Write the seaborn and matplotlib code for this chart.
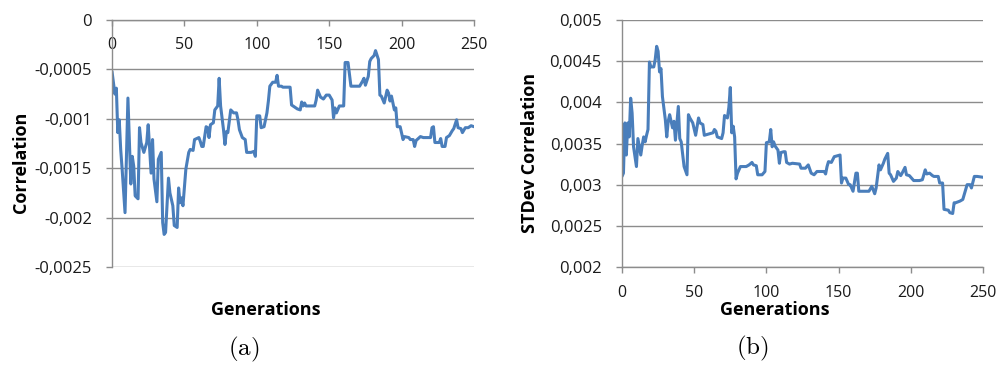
import numpy as np
import pandas as pd
import matplotlib
matplotlib.use("Agg")
import matplotlib.pyplot as plt
import seaborn as sns

# ---- data -------------------------------------------------------------
corr_gen = [0, 2, 3, 4, 5, 6, 7, 9, 10, 11, 13, 14, 15, 16, 18, 19, 20, 22, 24, 25,
            27, 28, 29, 31, 32, 34, 35, 36, 37, 39, 40, 42, 43, 45, 46, 47, 48, 49, 51, 53,
            54, 56, 57, 60, 61, 62, 63, 65, 66, 67, 68, 70, 71, 73, 74, 75, 77, 78, 79, 80,
            82, 84, 86, 87, 88, 90, 92, 93, 96, 98, 99, 100, 102, 103, 105, 107, 108, 109, 111, 113,
            114, 115, 117, 118, 123, 124, 125, 128, 130, 131, 132, 133, 134, 140, 141, 142, 144, 146, 148, 150,
            152, 153, 154, 155, 157, 160, 161, 163, 165, 171, 173, 174, 175, 177, 178, 179, 181, 182, 184, 185,
            186, 188, 190, 191, 192, 193, 195, 196, 197, 199, 201, 202, 205, 206, 208, 209, 210, 213, 215, 220,
            221, 222, 223, 226, 227, 228, 230, 231, 233, 235, 236, 238, 239, 241, 242, 244, 246, 248, 250]
corr_val = [-0.00052, -0.00075, -0.00069, -0.00114, -0.00101, -0.00131, -0.00151, -0.00195, -0.00138, -0.00079,
            -0.00166, -0.00138, -0.00148, -0.00178, -0.00181, -0.00109, -0.00124, -0.00134, -0.00124, -0.00106,
            -0.00155, -0.00121, -0.00161, -0.00184, -0.00141, -0.00134, -0.00205, -0.00217, -0.00215, -0.00160,
            -0.00175, -0.00188, -0.00208, -0.00210, -0.00170, -0.00185, -0.00180, -0.00188, -0.00151, -0.00134,
            -0.00131, -0.00132, -0.00121, -0.00119, -0.00123, -0.00128, -0.00128, -0.00108, -0.00109, -0.00119,
            -0.00106, -0.00104, -0.00091, -0.00087, -0.00059, -0.00087, -0.00111, -0.00126, -0.00113, -0.00114,
            -0.00091, -0.00094, -0.00094, -0.00101, -0.00111, -0.00119, -0.00121, -0.00134, -0.00134, -0.00133,
            -0.00138, -0.00097, -0.00097, -0.00109, -0.00108, -0.00094, -0.00082, -0.00067, -0.00063, -0.00063,
            -0.00056, -0.00067, -0.00067, -0.00068, -0.00068, -0.00086, -0.00087, -0.00090, -0.00091, -0.00083,
            -0.00087, -0.00084, -0.00087, -0.00087, -0.00081, -0.00071, -0.00078, -0.00080, -0.00076, -0.00076,
            -0.00081, -0.00099, -0.00089, -0.00094, -0.00087, -0.00087, -0.00043, -0.00043, -0.00067, -0.00067,
            -0.00062, -0.00059, -0.00066, -0.00057, -0.00042, -0.00039, -0.00036, -0.00031, -0.00040, -0.00076,
            -0.00077, -0.00084, -0.00071, -0.00074, -0.00082, -0.00077, -0.00091, -0.00089, -0.00108, -0.00108,
            -0.00121, -0.00118, -0.00119, -0.00121, -0.00121, -0.00128, -0.00122, -0.00118, -0.00119, -0.00119,
            -0.00109, -0.00108, -0.00124, -0.00124, -0.00120, -0.00128, -0.00128, -0.00119, -0.00117, -0.00112,
            -0.00110, -0.00101, -0.00109, -0.00110, -0.00114, -0.00109, -0.00109, -0.00107, -0.00108]

std_gen = [0, 1, 2, 3, 4, 5, 6, 7, 8, 10, 11, 13, 14, 15, 16, 17, 18, 19, 20, 22,
           23, 24, 25, 26, 27, 28, 30, 31, 32, 33, 35, 36, 37, 39, 40, 41, 43, 45, 46, 47,
           49, 51, 53, 54, 56, 57, 61, 63, 64, 65, 66, 69, 70, 71, 73, 74, 75, 76, 77, 78,
           79, 80, 82, 86, 88, 90, 91, 93, 94, 97, 99, 100, 102, 103, 104, 105, 106, 108, 109, 110,
           112, 113, 114, 116, 118, 123, 124, 127, 129, 131, 133, 135, 140, 141, 142, 143, 145, 147, 149, 151,
           152, 153, 155, 157, 158, 160, 162, 163, 164, 171, 173, 175, 176, 178, 179, 181, 182, 184, 185, 186,
           188, 190, 191, 193, 194, 196, 197, 199, 202, 206, 208, 210, 211, 213, 215, 216, 219, 220, 222, 223,
           226, 227, 229, 230, 231, 234, 236, 237, 239, 241, 242, 244, 246, 250]
std_val = [0.00310, 0.00314, 0.00375, 0.00336, 0.00375, 0.00358, 0.00405, 0.00387, 0.00346, 0.00322,
           0.00356, 0.00336, 0.00348, 0.00358, 0.00352, 0.00360, 0.00367, 0.00449, 0.00443, 0.00443,
           0.00452, 0.00468, 0.00462, 0.00437, 0.00441, 0.00407, 0.00379, 0.00358, 0.00377, 0.00385,
           0.00369, 0.00377, 0.00354, 0.00395, 0.00356, 0.00352, 0.00322, 0.00312, 0.00385, 0.00381,
           0.00375, 0.00360, 0.00381, 0.00375, 0.00373, 0.00360, 0.00362, 0.00363, 0.00367, 0.00365,
           0.00358, 0.00356, 0.00363, 0.00384, 0.00381, 0.00394, 0.00418, 0.00363, 0.00371, 0.00358,
           0.00307, 0.00314, 0.00322, 0.00322, 0.00324, 0.00327, 0.00324, 0.00323, 0.00312, 0.00312,
           0.00316, 0.00351, 0.00352, 0.00367, 0.00346, 0.00352, 0.00347, 0.00342, 0.00326, 0.00339,
           0.00340, 0.00340, 0.00327, 0.00325, 0.00326, 0.00325, 0.00320, 0.00320, 0.00324, 0.00314,
           0.00312, 0.00316, 0.00316, 0.00313, 0.00322, 0.00328, 0.00327, 0.00334, 0.00335, 0.00336,
           0.00302, 0.00308, 0.00308, 0.00300, 0.00300, 0.00292, 0.00314, 0.00314, 0.00292, 0.00292,
           0.00298, 0.00289, 0.00296, 0.00324, 0.00318, 0.00326, 0.00331, 0.00338, 0.00314, 0.00312,
           0.00304, 0.00308, 0.00316, 0.00311, 0.00314, 0.00321, 0.00312, 0.00311, 0.00305, 0.00305,
           0.00306, 0.00318, 0.00313, 0.00314, 0.00311, 0.00310, 0.00310, 0.00302, 0.00302, 0.00270,
           0.00269, 0.00266, 0.00265, 0.00278, 0.00278, 0.00280, 0.00282, 0.00288, 0.00300, 0.00300,
           0.00296, 0.00310, 0.00310, 0.00309]

gen_ticks = [0, 50, 100, 150, 200, 250]
gen_tick_labels = ["0", "50", "100", "150", "200", "250"]
corr_ticks = [0, -0.0005, -0.001, -0.0015, -0.002, -0.0025]
corr_tick_labels = ["0", "-0,0005", "-0,001", "-0,0015", "-0,002", "-0,0025"]
std_ticks = [0.005, 0.0045, 0.004, 0.0035, 0.003, 0.0025, 0.002]
std_tick_labels = ["0,005", "0,0045", "0,004", "0,0035", "0,003", "0,0025", "0,002"]

df_corr = pd.DataFrame({"Generations": corr_gen, "Correlation": corr_val})
df_std = pd.DataFrame({"Generations": std_gen, "STDev Correlation": std_val})

# ---- style -------------------------------------------------------------
sns.set_style("white")
plt.rcParams["font.family"] = ["Open Sans", "DejaVu Sans"]
plt.rcParams["mathtext.fontset"] = "cm"

LINE = "#4a7ebb"
GRID = "#8c8c8c"
TEXT = "#1a1a1a"

W, H = 1006, 365
fig = plt.figure(figsize=(W / 100, H / 100), dpi=100)
ax1 = fig.add_axes([112 / W, 98 / H, 362 / W, 247 / H])
ax2 = fig.add_axes([622 / W, 98 / H, 361 / W, 247 / H])

sns.lineplot(data=df_corr, x="Generations", y="Correlation", ax=ax1,
             color=LINE, linewidth=2.2, sort=True)
sns.lineplot(data=df_std, x="Generations", y="STDev Correlation", ax=ax2,
             color=LINE, linewidth=2.2, sort=True)

# ---- left panel: value axis crosses at 0, category labels under it -------
ax1.set_xlim(0, 250)
ax1.set_ylim(-0.0025, 0)
ax1.set_yticks(corr_ticks)
ax1.set_yticklabels(corr_tick_labels)
ax1.set_xticks(gen_ticks)
ax1.set_xticklabels(gen_tick_labels)
ax1.yaxis.grid(True, color=GRID, linewidth=1.0)
ax1.xaxis.grid(False)
for side in ["bottom", "right"]:
    ax1.spines[side].set_visible(False)
for side in ["top", "left"]:
    ax1.spines[side].set_color(GRID)
    ax1.spines[side].set_linewidth(1.0)
ax1.tick_params(axis="y", direction="out", length=4.5, width=1.0, color=GRID,
                pad=10, labelsize=12, labelcolor=TEXT, left=True)
ax1.tick_params(axis="x", direction="in", length=4, width=1.0, color=GRID,
                top=True, bottom=False, labeltop=True, labelbottom=False,
                pad=-23.5, labelsize=11.5, labelcolor=TEXT)

# ---- right panel ---------------------------------------------------------
ax2.set_xlim(0, 250)
ax2.set_ylim(0.002, 0.005)
ax2.set_yticks(std_ticks)
ax2.set_yticklabels(std_tick_labels)
ax2.set_xticks(gen_ticks)
ax2.set_xticklabels(gen_tick_labels)
ax2.yaxis.grid(True, color=GRID, linewidth=1.0)
ax2.xaxis.grid(False)
for side in ["top", "right"]:
    ax2.spines[side].set_visible(False)
for side in ["bottom", "left"]:
    ax2.spines[side].set_color(GRID)
    ax2.spines[side].set_linewidth(1.0)
ax2.tick_params(axis="y", direction="out", length=4.5, width=1.0, color=GRID,
                pad=10, labelsize=12, labelcolor=TEXT, left=True)
ax2.tick_params(axis="x", direction="out", length=4.3, width=1.0, color=GRID,
                bottom=True, pad=8.5, labelsize=11.5, labelcolor=TEXT)

# ---- axis titles ----------------------------------------------------------
for ax, ylab in [(ax1, "Correlation"), (ax2, "STDev Correlation")]:
    ax.set_xlabel("Generations", fontsize=13, fontweight="bold", color="black")
    ax.set_ylabel(ylab, fontsize=13, fontweight="bold", color="black")

ax1.xaxis.set_label_coords(0.425, -0.138)
ax1.yaxis.set_label_coords(-0.227, 0.425)
ax2.xaxis.set_label_coords(0.424, -0.136)
ax2.yaxis.set_label_coords(-0.230, 0.4615)

# ---- sub-figure captions ----------------------------------------------------
fig.text(243.5 / W, 1 - 349 / H, r"$\mathrm{(a)}$", ha="center", va="center",
         fontsize=18, color="black")
fig.text(752 / W, 1 - 348 / H, r"$\mathrm{(b)}$", ha="center", va="center",
         fontsize=18, color="black")

fig.savefig("out.png", dpi=100, facecolor="white")
